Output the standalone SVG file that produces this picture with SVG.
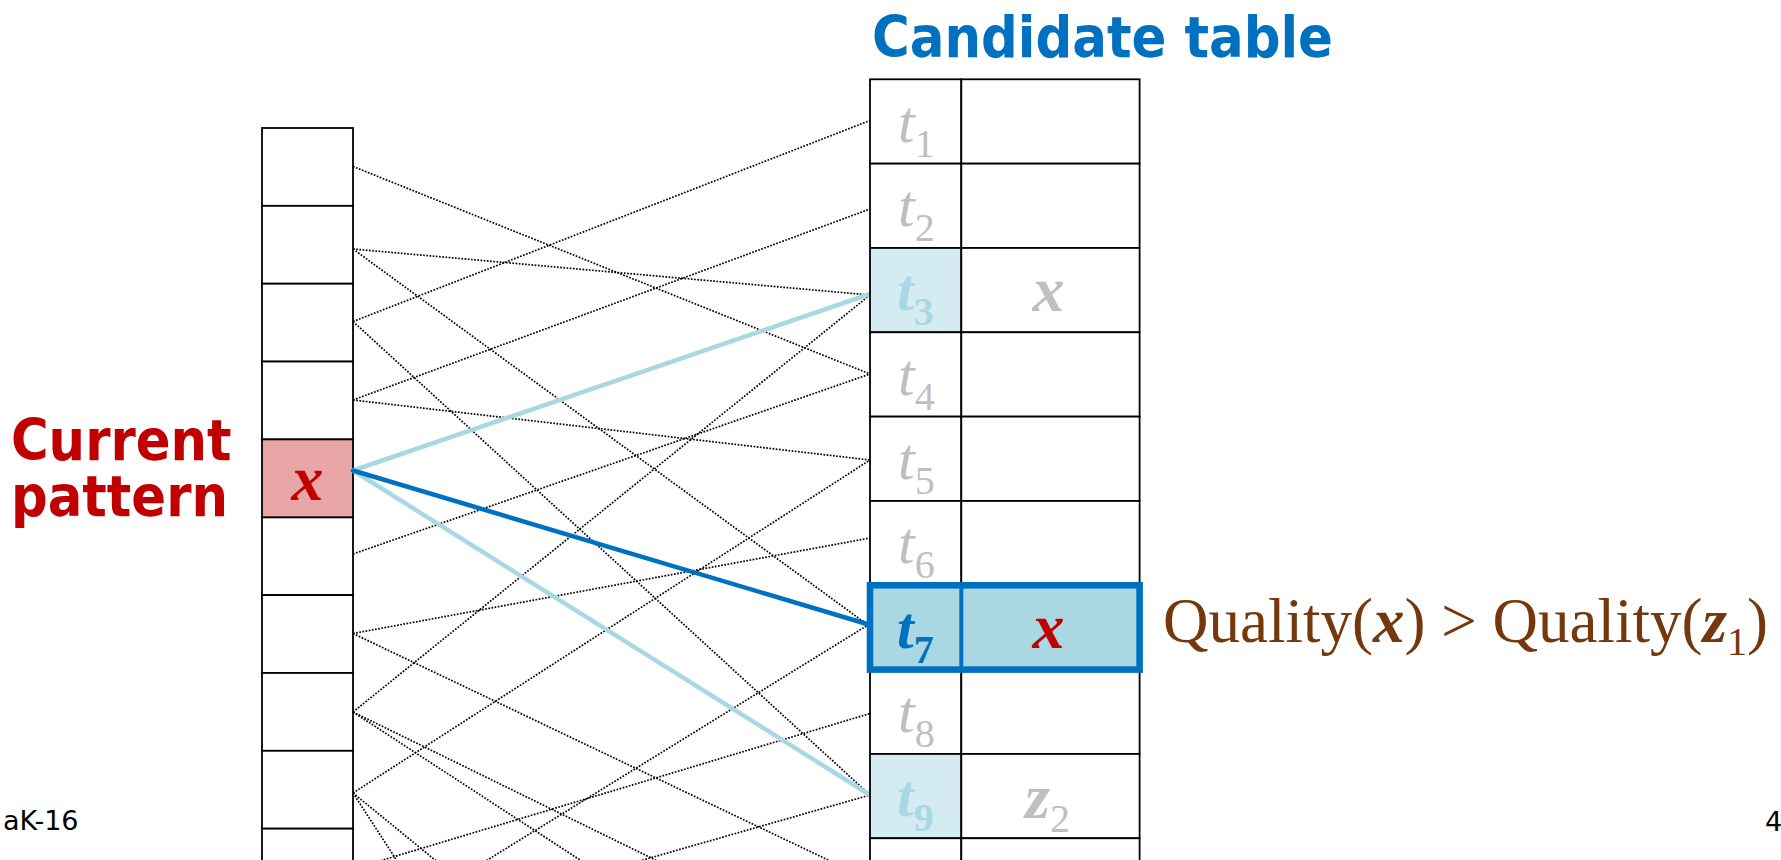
<svg xmlns="http://www.w3.org/2000/svg" width="1781" height="860" viewBox="0 0 1781 860">
<style>
.cell{fill:#ffffff;stroke:#000000;stroke-width:1.8}
.dot{stroke:#000000;stroke-width:1.7;stroke-dasharray:1.7 1.5;fill:none}
.lb{stroke:#AAD8E2;stroke-width:4.5;stroke-linecap:round}
.db{stroke:#0070C0;stroke-width:4.5;stroke-linecap:round}
.serif{font-family:"Liberation Serif","Times New Roman",serif}
.tl{font-family:"Liberation Serif","Times New Roman",serif;font-style:italic;font-size:60px;fill:#BFBFBF}
.sub{font-style:normal;font-size:40px}
.head{font-family:"DejaVu Sans",Verdana,sans-serif;font-weight:bold;font-size:57px}
.bx{font-family:"Liberation Serif","Times New Roman",serif;font-style:italic;font-weight:bold;font-size:64px}
.foot{font-family:"DejaVu Sans",Verdana,sans-serif;font-size:27px;fill:#000000}
</style>
<rect x="0" y="0" width="1781" height="860" fill="#ffffff"/>

<g id="title">
<text class="head" x="872" y="57" fill="#0070C0" textLength="461" lengthAdjust="spacingAndGlyphs">Candidate table</text>
</g>
<g id="current-pattern-label">
<text class="head" transform="scale(0.9,1)" fill="#C00000"><tspan x="12.2" y="460">Current</tspan><tspan x="12.2" y="516">pattern</tspan></text>
</g>

<g id="pattern-column">
<rect class="cell" x="262" y="128" width="91" height="77.85"/>
<rect class="cell" x="262" y="205.85" width="91" height="77.85"/>
<rect class="cell" x="262" y="283.7" width="91" height="77.85"/>
<rect class="cell" x="262" y="361.55" width="91" height="77.85"/>
<rect class="cell" x="262" y="517.25" width="91" height="77.85"/>
<rect class="cell" x="262" y="595.1" width="91" height="77.85"/>
<rect class="cell" x="262" y="672.95" width="91" height="77.85"/>
<rect class="cell" x="262" y="750.8" width="91" height="77.85"/>
<rect class="cell" x="262" y="828.65" width="91" height="77.85"/>
</g>
<g id="current-cell">
<rect class="cell" x="262" y="439.4" width="91" height="77.85" style="fill:#E8A6A7"/>
<text class="bx" x="307.5" y="500" text-anchor="middle" fill="#C00000">x</text>
</g>

<g id="connectors">
<line class="dot" x1="353" y1="166.5" x2="870" y2="374"/>
<line class="dot" x1="353" y1="249" x2="870" y2="295"/>
<line class="dot" x1="353" y1="249" x2="868" y2="625"/>
<line class="dot" x1="353" y1="321.5" x2="870" y2="120.5"/>
<line class="dot" x1="353" y1="321.5" x2="870" y2="795"/>
<line class="dot" x1="353" y1="400" x2="870" y2="209"/>
<line class="dot" x1="353" y1="400" x2="870" y2="460"/>
<line class="dot" x1="353" y1="554" x2="870" y2="374"/>
<line class="dot" x1="353" y1="633.5" x2="870" y2="538"/>
<line class="dot" x1="353" y1="633.5" x2="870" y2="880"/>
<line class="dot" x1="353" y1="712" x2="870" y2="295"/>
<line class="dot" x1="353" y1="712" x2="870" y2="965"/>
<line class="dot" x1="353" y1="712" x2="870" y2="1049"/>
<line class="dot" x1="353" y1="793" x2="870" y2="460"/>
<line class="dot" x1="353" y1="793" x2="870" y2="1215"/>
<line class="dot" x1="353" y1="793" x2="870" y2="1590"/>
<line class="dot" x1="353" y1="869" x2="870" y2="713.5"/>
<line class="dot" x1="353" y1="943" x2="868" y2="625"/>
<line class="dot" x1="353" y1="943" x2="870" y2="795"/>
<line class="lb" x1="353" y1="470.5" x2="870" y2="294"/>
<line class="lb" x1="353" y1="470.5" x2="870" y2="795"/>
<line class="db" x1="353" y1="470.5" x2="867" y2="624"/>
</g>

<g id="row-t1">
<rect class="cell" x="870" y="79.3" width="91.3" height="84.33"/>
<rect class="cell" x="961.3" y="79.3" width="178.3" height="84.33"/>
<text class="tl" x="898" y="141.7">t<tspan class="sub" dy="15">1</tspan></text>
</g>
<g id="row-t2">
<rect class="cell" x="870" y="163.63" width="91.3" height="84.33"/>
<rect class="cell" x="961.3" y="163.63" width="178.3" height="84.33"/>
<text class="tl" x="898" y="226">t<tspan class="sub" dy="15">2</tspan></text>
</g>
<g id="row-t3">
<rect class="cell" x="870" y="247.96" width="91.3" height="84.33" style="fill:#D4EBF1"/>
<rect class="cell" x="961.3" y="247.96" width="178.3" height="84.33"/>
<text class="tl" x="897" y="310.4" style="font-weight:bold;fill:#AAD8E2">t<tspan class="sub" dy="15">3</tspan></text>
<text class="bx" x="1048.4" y="311" text-anchor="middle" fill="#BFBFBF">x</text>
</g>
<g id="row-t4">
<rect class="cell" x="870" y="332.29" width="91.3" height="84.33"/>
<rect class="cell" x="961.3" y="332.29" width="178.3" height="84.33"/>
<text class="tl" x="898" y="394.7">t<tspan class="sub" dy="15">4</tspan></text>
</g>
<g id="row-t5">
<rect class="cell" x="870" y="416.62" width="91.3" height="84.33"/>
<rect class="cell" x="961.3" y="416.62" width="178.3" height="84.33"/>
<text class="tl" x="898" y="479">t<tspan class="sub" dy="15">5</tspan></text>
</g>
<g id="row-t6">
<rect class="cell" x="870" y="500.95" width="91.3" height="84.33"/>
<rect class="cell" x="961.3" y="500.95" width="178.3" height="84.33"/>
<text class="tl" x="898" y="563.4">t<tspan class="sub" dy="15">6</tspan></text>
</g>
<g id="row-t8">
<rect class="cell" x="870" y="669.61" width="91.3" height="84.33"/>
<rect class="cell" x="961.3" y="669.61" width="178.3" height="84.33"/>
<text class="tl" x="898" y="732">t<tspan class="sub" dy="15">8</tspan></text>
</g>
<g id="row-t9">
<rect class="cell" x="870" y="753.94" width="91.3" height="84.33" style="fill:#D4EBF1"/>
<rect class="cell" x="961.3" y="753.94" width="178.3" height="84.33"/>
<text class="tl" x="897" y="816.3" style="font-weight:bold;fill:#AAD8E2">t<tspan class="sub" dy="15">9</tspan></text>
<text class="bx" x="1025" y="818.3" fill="#BFBFBF">z<tspan class="sub" style="font-weight:normal" dy="13.4">2</tspan></text>
</g>
<g id="row-t10">
<rect class="cell" x="870" y="838.27" width="91.3" height="84.33"/>
<rect class="cell" x="961.3" y="838.27" width="178.3" height="84.33"/>
</g>
<g id="row-t7">
<rect x="870" y="585.28" width="269.6" height="84.33" fill="#AAD8E2"/>
<line x1="961.3" y1="585.28" x2="961.3" y2="669.61" stroke="#0070C0" stroke-width="4"/>
<rect x="870" y="585.28" width="269.6" height="84.33" fill="none" stroke="#0070C0" stroke-width="6.6"/>
<text class="tl" x="897" y="647.7" style="font-weight:bold;fill:#0070C0">t<tspan class="sub" dy="15">7</tspan></text>
<text class="bx" x="1048.4" y="648" text-anchor="middle" fill="#C00000">x</text>
</g>

<g id="quality-condition">
<text class="serif" x="1163" y="642" font-size="63" fill="#74380C">Quality(<tspan font-style="italic" font-weight="bold">x</tspan>) &gt; Quality(<tspan font-style="italic" font-weight="bold">z</tspan><tspan font-size="40" dy="13">1</tspan><tspan dy="-13">)</tspan></text>
</g>

<g id="footer">
<text class="foot" x="3" y="830">aK-16</text>
<text class="foot" x="1765" y="831">4</text>
</g>
</svg>
